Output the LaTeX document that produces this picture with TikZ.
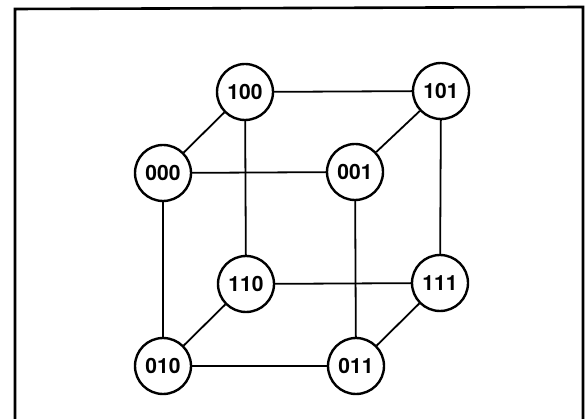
\documentclass[tikz,border=0pt]{standalone}
\usepackage{fontspec}
\setmainfont{TeX Gyre Heros}
\begin{document}
\begin{tikzpicture}[x=1pt,y=-1pt,
  vertex/.style={circle,draw,line width=2.4pt,minimum size=56pt,inner sep=0pt,
    font=\fontsize{21}{21}\selectfont\bfseries,fill=white},
  link/.style={line width=1.8pt}]
\useasboundingbox (0,0) rectangle (586,419);
% outer frame, open at the bottom
\draw[line width=2.6pt] (15,430) -- (15,9) -- (583,7) -- (583,430);
% cube vertices
\node[vertex] (n100) at (245,92) {100};
\node[vertex] (n101) at (441,91) {101};
\node[vertex] (n000) at (163,173) {000};
\node[vertex] (n001) at (355,172) {001};
\node[vertex] (n110) at (246,284) {110};
\node[vertex] (n111) at (440,283) {111};
\node[vertex] (n010) at (163,366) {010};
\node[vertex] (n011) at (356,366) {011};
% cube edges
\draw[link] (n100) -- (n101);
\draw[link] (n100) -- (n000);
\draw[link] (n100) -- (n110);
\draw[link] (n101) -- (n001);
\draw[link] (n101) -- (n111);
\draw[link] (n000) -- (n001);
\draw[link] (n000) -- (n010);
\draw[link] (n001) -- (n011);
\draw[link] (n110) -- (n111);
\draw[link] (n110) -- (n010);
\draw[link] (n111) -- (n011);
\draw[link] (n010) -- (n011);
\end{tikzpicture}
\end{document}
